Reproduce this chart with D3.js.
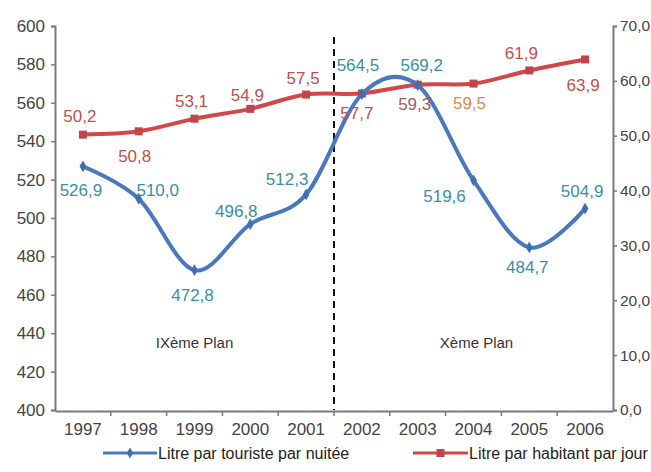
<!DOCTYPE html>
<html>
<head>
<meta charset="utf-8">
<script src="https://cdn.jsdelivr.net/npm/d3@7"></script>
<style>
  html, body { margin: 0; padding: 0; background: #ffffff; }
  svg { display: block; }
  text { font-family: "Liberation Sans Narrow", "Liberation Sans", Arial, sans-serif; }
</style>
</head>
<body>
<svg id="chart" width="651" height="472"></svg>
<script>
// ---- data ----
const years = ["1997","1998","1999","2000","2001","2002","2003","2004","2005","2006"];
const touriste = [526.9, 510.0, 472.8, 496.8, 512.3, 564.5, 569.2, 519.6, 484.7, 504.9];
const habitant = [50.2, 50.8, 53.1, 54.9, 57.5, 57.7, 59.3, 59.5, 61.9, 63.9];
const leftTicks = [400, 420, 440, 460, 480, 500, 520, 540, 560, 580, 600];
const rightTicks = [0, 10, 20, 30, 40, 50, 60, 70];
const seriesNames = ["Litre par touriste par nuitée", "Litre par habitant par jour"];
const planLabels = ["IXème Plan", "Xème Plan"];

// ---- label placement (layout only) ----
const touristeLabelOffset = [[-2,24],[19,-9],[-2,25],[-14,-13],[-19,-15],[-4,-29],[4,-20],[-29,16],[-2,20],[-3,-18]];
const habitantLabelOffset = [[-3,-19],[-4,25],[-3,-18],[-3,-14],[-3,-17],[-5,20],[-3,19],[-4,19],[-8,-17],[-2,26]];
const habitantLabelColor = ["#c0504d","#c0504d","#c0504d","#c0504d","#c0504d","#c0504d","#a05a62","#e08a4a","#c0504d","#c0504d"];

const svg = d3.select("#chart");
const mLeft = 55, mRight = 613, mTop = 26, mBottom = 410;

const x = d3.scaleBand().domain(years).range([mLeft, mRight]).padding(0);
const yL = d3.scaleLinear().domain([400, 600]).range([mBottom, mTop]);
const yR = d3.scaleLinear().domain([0, 70]).range([mBottom, mTop]);

const fmt1 = d => d.toFixed(1).replace(".", ",");
const axisColor = "#7a7a7a";
const tickText = "#444";

// left axis
const gL = svg.append("g").attr("transform", `translate(${mLeft},0)`)
  .call(d3.axisLeft(yL).tickValues(leftTicks).tickSize(4).tickPadding(6).tickFormat(d3.format("d")));
gL.select(".domain").attr("stroke", axisColor).attr("stroke-width", 2);
gL.selectAll(".tick line").attr("stroke", axisColor).attr("stroke-width", 1.5);
gL.selectAll(".tick text").attr("fill", tickText).attr("font-size", 17);

// right axis
const gR = svg.append("g").attr("transform", `translate(${mRight},0)`)
  .call(d3.axisRight(yR).tickValues(rightTicks).tickSize(4).tickPadding(3).tickFormat(fmt1));
gR.select(".domain").attr("stroke", axisColor).attr("stroke-width", 2);
gR.selectAll(".tick line").attr("stroke", axisColor).attr("stroke-width", 1.5);
gR.selectAll(".tick text").attr("fill", tickText).attr("font-size", 15.5);

// bottom axis
const gB = svg.append("g").attr("transform", `translate(0,${mBottom + 1})`)
  .call(d3.axisBottom(x).tickSize(0).tickPadding(12));
gB.select(".domain").attr("stroke", axisColor).attr("stroke-width", 2);
gB.selectAll(".tick text").attr("fill", tickText).attr("font-size", 17);
gB.selectAll(".boundary").data(years.slice(1)).enter().append("line")
  .attr("x1", d => x(d)).attr("x2", d => x(d)).attr("y1", 0).attr("y2", 5)
  .attr("stroke", axisColor).attr("stroke-width", 1.5);

// dashed plan separator
svg.append("line")
  .attr("x1", x("2002")).attr("x2", x("2002"))
  .attr("y1", 37).attr("y2", mBottom)
  .attr("stroke", "#111").attr("stroke-width", 2).attr("stroke-dasharray", "7,5");

// plan labels
svg.append("text").attr("x", x("1999") + x.bandwidth()/2).attr("y", 348)
  .attr("text-anchor", "middle").attr("font-size", 15).attr("fill", "#333").text(planLabels[0]);
svg.append("text").attr("x", x("2004") + x.bandwidth()/2 + 3).attr("y", 348)
  .attr("text-anchor", "middle").attr("font-size", 15).attr("fill", "#333").text(planLabels[1]);

const cx = d => x(d) + x.bandwidth()/2;
const curve = d3.curveCardinal.tension(0);

// red series
const redLine = d3.line().x((d,i) => cx(years[i])).y(d => yR(d)).curve(curve);
svg.append("path").datum(habitant).attr("d", redLine)
  .attr("fill", "none").attr("stroke", "#d04848").attr("stroke-width", 4);
svg.selectAll(".rm").data(habitant).enter().append("rect")
  .attr("x", (d,i) => cx(years[i]) - 4).attr("y", d => yR(d) - 4)
  .attr("width", 8).attr("height", 8).attr("fill", "#c04448");

// blue series
const blueLine = d3.line().x((d,i) => cx(years[i])).y(d => yL(d)).curve(curve);
svg.append("path").datum(touriste).attr("d", blueLine)
  .attr("fill", "none").attr("stroke", "#4a78bd").attr("stroke-width", 4);
svg.selectAll(".bm").data(touriste).enter().append("path")
  .attr("transform", (d,i) => `translate(${cx(years[i])},${yL(d)})`)
  .attr("d", d3.symbol().type(d3.symbolDiamond).size(40)).attr("fill", "#3f6fb3");

// labels
svg.selectAll(".bl").data(touriste).enter().append("text")
  .attr("x", (d,i) => cx(years[i]) + touristeLabelOffset[i][0])
  .attr("y", (d,i) => yL(d) + touristeLabelOffset[i][1] + 6)
  .attr("text-anchor", "middle").attr("font-size", 17).attr("fill", "#3a8ea8")
  .text(fmt1);
svg.selectAll(".rl").data(habitant).enter().append("text")
  .attr("x", (d,i) => cx(years[i]) + habitantLabelOffset[i][0])
  .attr("y", (d,i) => yR(d) + habitantLabelOffset[i][1] + 6)
  .attr("text-anchor", "middle").attr("font-size", 17).attr("fill", (d,i) => habitantLabelColor[i])
  .text(fmt1);

// legend
const legY = 453;
const leg = [
  {x1: 103, x2: 157, color: "#4a78bd", marker: "diamond"},
  {x1: 413, x2: 468, color: "#d04848", marker: "square"}
];
leg.forEach((l, i) => {
  svg.append("line").attr("x1", l.x1).attr("x2", l.x2).attr("y1", legY).attr("y2", legY)
    .attr("stroke", l.color).attr("stroke-width", 3);
  if (l.marker === "square") {
    svg.append("rect").attr("x", (l.x1+l.x2)/2 - 4).attr("y", legY - 4).attr("width", 8).attr("height", 8).attr("fill", "#c04448");
  } else {
    svg.append("path").attr("transform", `translate(${(l.x1+l.x2)/2},${legY})`)
      .attr("d", d3.symbol().type(d3.symbolDiamond).size(35)).attr("fill", "#3f6fb3");
  }
  svg.append("text").attr("x", l.x2 + 1).attr("y", legY + 6).attr("font-size", 16).attr("fill", "#222")
    .text(seriesNames[i]);
});
</script>
</body>
</html>
